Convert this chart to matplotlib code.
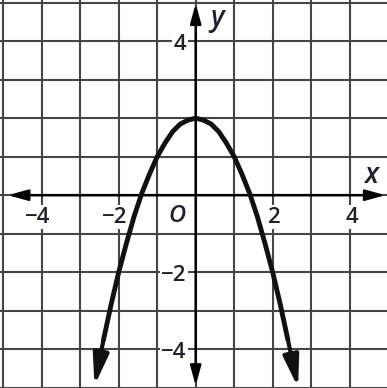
import matplotlib
matplotlib.use("Agg")
import matplotlib.pyplot as plt

# points (tips of the arrows at both ends)
curve_x = [-2.63, -2.4, -2.2, -2.0, -1.8, -1.6, -1.4, -1.2, -1.0, -0.8, -0.6, -0.4, -0.2, 0.0,
           0.2, 0.4, 0.6, 0.8, 1.0, 1.2, 1.4, 1.6, 1.8, 2.0, 2.2, 2.4, 2.66]
curve_y = [-4.95, -3.78, -2.85, -2.0, -1.25, -0.55, 0.05, 0.55, 1.0, 1.35, 1.65, 1.85, 1.95, 2.0,
           1.95, 1.85, 1.65, 1.35, 1.0, 0.55, 0.05, -0.55, -1.25, -2.0, -2.85, -3.78, -5.0]

x_ticks = [-4, -2, 2, 4]
x_labels = ["\u22124", "\u22122", "2", "4"]
y_ticks = [4, -2, -4]
y_labels = ["4", "\u22122", "\u22124"]
grid_lines = range(-5, 6)

plt.rcParams['font.family'] = ['Open Sans', 'DejaVu Sans']
text_color = "#20202e"

fig = plt.figure(figsize=(3.87, 3.88), dpi=100)
ax = fig.add_axes([0, 0, 1, 1])
ax.set_xlim(-5.084, 4.970)
ax.set_ylim(-5.008, 5.07)
ax.axis("off")

# grid
for g in grid_lines:
    ax.axvline(g, color="#454545", lw=1.5, zorder=1)
    ax.axhline(g, color="#454545", lw=1.5, zorder=1)

# axes with arrows at both ends
for start, end in [((4.93, 0), (-4.88, 0)), ((0, 4.98), (0, -4.95))]:
    ax.annotate("", xy=end, xytext=start,
                arrowprops=dict(arrowstyle="<|-|>,head_length=0.8,head_width=0.22",
                                mutation_scale=15, lw=1.8, color="black",
                                shrinkA=0, shrinkB=0), zorder=4)

# parabola
ax.plot(curve_x[1:-1], curve_y[1:-1], color="#111111", lw=3.5,
        solid_capstyle="butt", solid_joinstyle="round", zorder=5)
for i, j in [(1, 0), (-2, -1)]:
    ax.annotate("", xy=(curve_x[j], curve_y[j]), xytext=(curve_x[i], curve_y[i]),
                arrowprops=dict(arrowstyle="-|>,head_length=1.05,head_width=0.26",
                                mutation_scale=18, lw=3.0, color="#111111",
                                shrinkA=0, shrinkB=0), zorder=5)

box = dict(facecolor="white", edgecolor="none", pad=1)
for t, lab in zip(x_ticks, x_labels):
    ax.text(t + 0.22, -0.57, lab, ha="right", va="center", fontsize=16,
            weight="semibold", color=text_color, bbox=box, zorder=3)
for t, lab in zip(y_ticks, y_labels):
    ax.text(-0.24, t - 0.08, lab, ha="right", va="center", fontsize=16,
            weight="semibold", color=text_color, bbox=box, zorder=3)

ax.text(-0.49, -0.55, "O", ha="center", va="center", fontsize=17, style="italic",
        weight="semibold", color=text_color, bbox=box, zorder=3)
ax.text(4.55, 0.5, "x", ha="center", va="center", fontsize=20, style="italic",
        weight="semibold", color=text_color, zorder=3)
ax.text(0.55, 4.6, "y", ha="center", va="center", fontsize=20, style="italic",
        weight="semibold", color=text_color, zorder=3)

fig.savefig("out.png", dpi=100)
